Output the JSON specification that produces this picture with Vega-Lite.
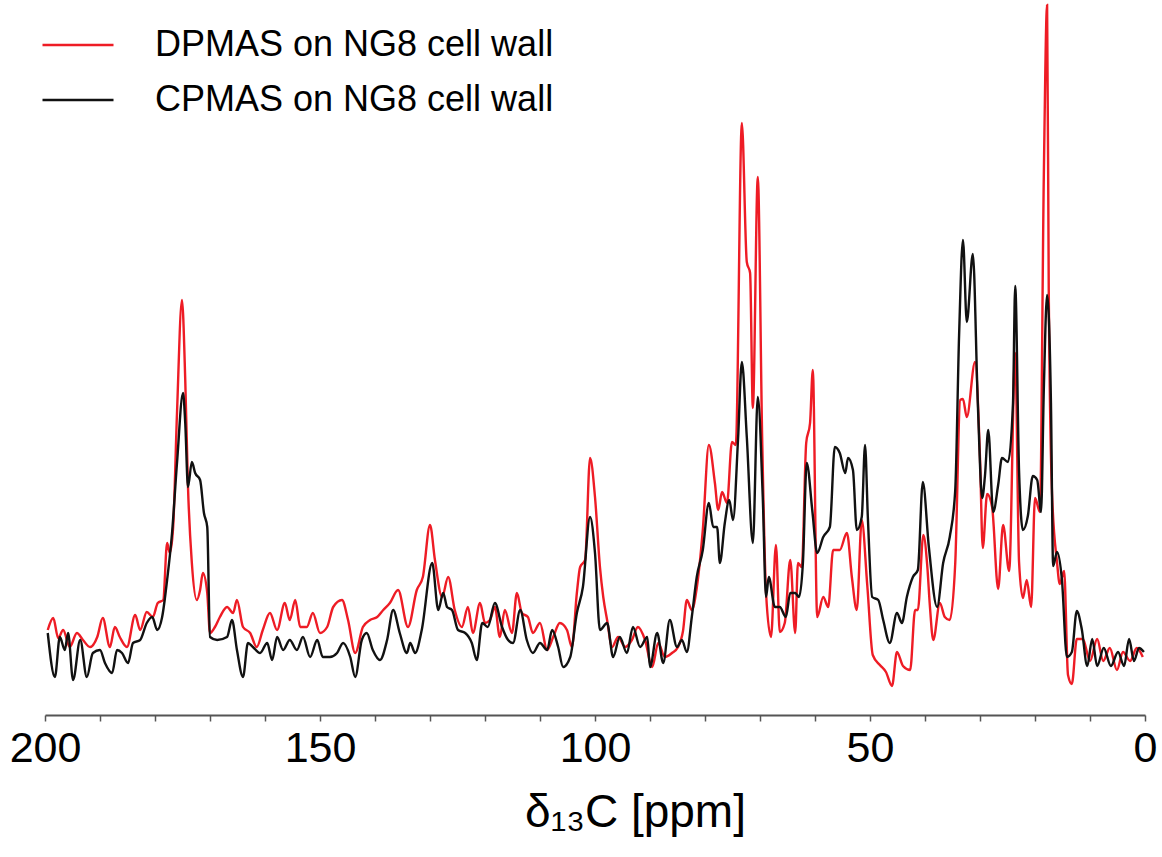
{
  "$schema": "https://vega.github.io/schema/vega-lite/v6.json",
  "autosize": {"type": "none"},
  "padding": {"left": 45, "top": 0, "right": 17, "bottom": 142},
  "width": 1100,
  "height": 715,
  "background": "white",
  "config": {"view": {"stroke": null}, "font": "Liberation Sans"},
  "datasets": {
    "dp": [
      {"s":"DPMAS on NG8 cell wall","ppm":199.5,"v":85},{"s":"DPMAS on NG8 cell wall","ppm":198.5,"v":97},{"s":"DPMAS on NG8 cell wall","ppm":197.6,"v":77},{"s":"DPMAS on NG8 cell wall","ppm":196.7,"v":85},{"s":"DPMAS on NG8 cell wall","ppm":195.5,"v":68},{"s":"DPMAS on NG8 cell wall","ppm":194.2,"v":82},{"s":"DPMAS on NG8 cell wall","ppm":193.1,"v":75},{"s":"DPMAS on NG8 cell wall","ppm":191.8,"v":68},{"s":"DPMAS on NG8 cell wall","ppm":190.5,"v":78},{"s":"DPMAS on NG8 cell wall","ppm":189.5,"v":97},{"s":"DPMAS on NG8 cell wall","ppm":188.2,"v":68},{"s":"DPMAS on NG8 cell wall","ppm":187.3,"v":88},{"s":"DPMAS on NG8 cell wall","ppm":186.4,"v":78},{"s":"DPMAS on NG8 cell wall","ppm":185.1,"v":68},{"s":"DPMAS on NG8 cell wall","ppm":183.6,"v":100},{"s":"DPMAS on NG8 cell wall","ppm":182.7,"v":85},{"s":"DPMAS on NG8 cell wall","ppm":181.5,"v":103},{"s":"DPMAS on NG8 cell wall","ppm":180.4,"v":98},{"s":"DPMAS on NG8 cell wall","ppm":179.5,"v":112},{"s":"DPMAS on NG8 cell wall","ppm":178.5,"v":115},{"s":"DPMAS on NG8 cell wall","ppm":177.8,"v":172},{"s":"DPMAS on NG8 cell wall","ppm":177.3,"v":162},{"s":"DPMAS on NG8 cell wall","ppm":176.7,"v":188},{"s":"DPMAS on NG8 cell wall","ppm":176.0,"v":302},{"s":"DPMAS on NG8 cell wall","ppm":175.1,"v":415},{"s":"DPMAS on NG8 cell wall","ppm":174.5,"v":335},{"s":"DPMAS on NG8 cell wall","ppm":174.0,"v":228},{"s":"DPMAS on NG8 cell wall","ppm":173.3,"v":152},{"s":"DPMAS on NG8 cell wall","ppm":172.4,"v":115},{"s":"DPMAS on NG8 cell wall","ppm":171.8,"v":125},{"s":"DPMAS on NG8 cell wall","ppm":171.3,"v":142},{"s":"DPMAS on NG8 cell wall","ppm":170.5,"v":122},{"s":"DPMAS on NG8 cell wall","ppm":170.0,"v":82},{"s":"DPMAS on NG8 cell wall","ppm":169.1,"v":88},{"s":"DPMAS on NG8 cell wall","ppm":168.2,"v":98},{"s":"DPMAS on NG8 cell wall","ppm":166.9,"v":108},{"s":"DPMAS on NG8 cell wall","ppm":165.8,"v":102},{"s":"DPMAS on NG8 cell wall","ppm":165.1,"v":115},{"s":"DPMAS on NG8 cell wall","ppm":164.0,"v":88},{"s":"DPMAS on NG8 cell wall","ppm":162.7,"v":82},{"s":"DPMAS on NG8 cell wall","ppm":161.5,"v":68},{"s":"DPMAS on NG8 cell wall","ppm":160.4,"v":85},{"s":"DPMAS on NG8 cell wall","ppm":159.1,"v":102},{"s":"DPMAS on NG8 cell wall","ppm":157.8,"v":85},{"s":"DPMAS on NG8 cell wall","ppm":156.4,"v":112},{"s":"DPMAS on NG8 cell wall","ppm":155.5,"v":95},{"s":"DPMAS on NG8 cell wall","ppm":154.5,"v":115},{"s":"DPMAS on NG8 cell wall","ppm":153.6,"v":88},{"s":"DPMAS on NG8 cell wall","ppm":152.4,"v":88},{"s":"DPMAS on NG8 cell wall","ppm":151.3,"v":102},{"s":"DPMAS on NG8 cell wall","ppm":150.0,"v":82},{"s":"DPMAS on NG8 cell wall","ppm":148.7,"v":88},{"s":"DPMAS on NG8 cell wall","ppm":147.6,"v":108},{"s":"DPMAS on NG8 cell wall","ppm":146.0,"v":115},{"s":"DPMAS on NG8 cell wall","ppm":144.9,"v":95},{"s":"DPMAS on NG8 cell wall","ppm":143.6,"v":62},{"s":"DPMAS on NG8 cell wall","ppm":142.2,"v":88},{"s":"DPMAS on NG8 cell wall","ppm":140.9,"v":95},{"s":"DPMAS on NG8 cell wall","ppm":139.6,"v":98},{"s":"DPMAS on NG8 cell wall","ppm":138.5,"v":105},{"s":"DPMAS on NG8 cell wall","ppm":137.3,"v":112},{"s":"DPMAS on NG8 cell wall","ppm":135.8,"v":125},{"s":"DPMAS on NG8 cell wall","ppm":134.0,"v":88},{"s":"DPMAS on NG8 cell wall","ppm":132.4,"v":125},{"s":"DPMAS on NG8 cell wall","ppm":131.3,"v":138},{"s":"DPMAS on NG8 cell wall","ppm":130.0,"v":190},{"s":"DPMAS on NG8 cell wall","ppm":129.1,"v":155},{"s":"DPMAS on NG8 cell wall","ppm":127.8,"v":118},{"s":"DPMAS on NG8 cell wall","ppm":126.7,"v":138},{"s":"DPMAS on NG8 cell wall","ppm":125.5,"v":105},{"s":"DPMAS on NG8 cell wall","ppm":124.2,"v":88},{"s":"DPMAS on NG8 cell wall","ppm":123.1,"v":108},{"s":"DPMAS on NG8 cell wall","ppm":122.2,"v":82},{"s":"DPMAS on NG8 cell wall","ppm":120.9,"v":112},{"s":"DPMAS on NG8 cell wall","ppm":120.0,"v":92},{"s":"DPMAS on NG8 cell wall","ppm":119.1,"v":95},{"s":"DPMAS on NG8 cell wall","ppm":118.2,"v":108},{"s":"DPMAS on NG8 cell wall","ppm":117.3,"v":78},{"s":"DPMAS on NG8 cell wall","ppm":116.4,"v":105},{"s":"DPMAS on NG8 cell wall","ppm":115.1,"v":82},{"s":"DPMAS on NG8 cell wall","ppm":114.2,"v":122},{"s":"DPMAS on NG8 cell wall","ppm":113.3,"v":102},{"s":"DPMAS on NG8 cell wall","ppm":112.2,"v":98},{"s":"DPMAS on NG8 cell wall","ppm":111.3,"v":82},{"s":"DPMAS on NG8 cell wall","ppm":110.0,"v":92},{"s":"DPMAS on NG8 cell wall","ppm":108.7,"v":65},{"s":"DPMAS on NG8 cell wall","ppm":107.6,"v":78},{"s":"DPMAS on NG8 cell wall","ppm":106.4,"v":92},{"s":"DPMAS on NG8 cell wall","ppm":105.1,"v":85},{"s":"DPMAS on NG8 cell wall","ppm":104.2,"v":68},{"s":"DPMAS on NG8 cell wall","ppm":103.3,"v":122},{"s":"DPMAS on NG8 cell wall","ppm":102.7,"v":148},{"s":"DPMAS on NG8 cell wall","ppm":101.8,"v":155},{"s":"DPMAS on NG8 cell wall","ppm":100.9,"v":257},{"s":"DPMAS on NG8 cell wall","ppm":100.0,"v":218},{"s":"DPMAS on NG8 cell wall","ppm":99.1,"v":148},{"s":"DPMAS on NG8 cell wall","ppm":98.5,"v":118},{"s":"DPMAS on NG8 cell wall","ppm":97.8,"v":95},{"s":"DPMAS on NG8 cell wall","ppm":96.9,"v":68},{"s":"DPMAS on NG8 cell wall","ppm":95.8,"v":78},{"s":"DPMAS on NG8 cell wall","ppm":94.5,"v":68},{"s":"DPMAS on NG8 cell wall","ppm":93.3,"v":75},{"s":"DPMAS on NG8 cell wall","ppm":92.2,"v":88},{"s":"DPMAS on NG8 cell wall","ppm":90.9,"v":75},{"s":"DPMAS on NG8 cell wall","ppm":89.6,"v":48},{"s":"DPMAS on NG8 cell wall","ppm":88.5,"v":72},{"s":"DPMAS on NG8 cell wall","ppm":87.3,"v":58},{"s":"DPMAS on NG8 cell wall","ppm":86.0,"v":62},{"s":"DPMAS on NG8 cell wall","ppm":84.9,"v":68},{"s":"DPMAS on NG8 cell wall","ppm":84.0,"v":84},{"s":"DPMAS on NG8 cell wall","ppm":83.3,"v":115},{"s":"DPMAS on NG8 cell wall","ppm":82.4,"v":105},{"s":"DPMAS on NG8 cell wall","ppm":81.5,"v":127},{"s":"DPMAS on NG8 cell wall","ppm":80.4,"v":185},{"s":"DPMAS on NG8 cell wall","ppm":79.3,"v":270},{"s":"DPMAS on NG8 cell wall","ppm":78.2,"v":232},{"s":"DPMAS on NG8 cell wall","ppm":77.6,"v":205},{"s":"DPMAS on NG8 cell wall","ppm":76.9,"v":223},{"s":"DPMAS on NG8 cell wall","ppm":76.0,"v":212},{"s":"DPMAS on NG8 cell wall","ppm":75.1,"v":273},{"s":"DPMAS on NG8 cell wall","ppm":74.4,"v":270},{"s":"DPMAS on NG8 cell wall","ppm":73.3,"v":592},{"s":"DPMAS on NG8 cell wall","ppm":72.4,"v":453},{"s":"DPMAS on NG8 cell wall","ppm":71.8,"v":442},{"s":"DPMAS on NG8 cell wall","ppm":71.3,"v":307},{"s":"DPMAS on NG8 cell wall","ppm":70.4,"v":538},{"s":"DPMAS on NG8 cell wall","ppm":69.6,"v":275},{"s":"DPMAS on NG8 cell wall","ppm":68.9,"v":122},{"s":"DPMAS on NG8 cell wall","ppm":68.0,"v":78},{"s":"DPMAS on NG8 cell wall","ppm":67.1,"v":170},{"s":"DPMAS on NG8 cell wall","ppm":66.4,"v":83},{"s":"DPMAS on NG8 cell wall","ppm":65.5,"v":92},{"s":"DPMAS on NG8 cell wall","ppm":64.5,"v":155},{"s":"DPMAS on NG8 cell wall","ppm":63.6,"v":82},{"s":"DPMAS on NG8 cell wall","ppm":63.1,"v":152},{"s":"DPMAS on NG8 cell wall","ppm":62.4,"v":148},{"s":"DPMAS on NG8 cell wall","ppm":61.6,"v":272},{"s":"DPMAS on NG8 cell wall","ppm":60.9,"v":292},{"s":"DPMAS on NG8 cell wall","ppm":60.4,"v":345},{"s":"DPMAS on NG8 cell wall","ppm":59.6,"v":98},{"s":"DPMAS on NG8 cell wall","ppm":58.5,"v":118},{"s":"DPMAS on NG8 cell wall","ppm":57.6,"v":108},{"s":"DPMAS on NG8 cell wall","ppm":56.7,"v":165},{"s":"DPMAS on NG8 cell wall","ppm":55.5,"v":165},{"s":"DPMAS on NG8 cell wall","ppm":54.2,"v":182},{"s":"DPMAS on NG8 cell wall","ppm":53.3,"v":138},{"s":"DPMAS on NG8 cell wall","ppm":52.4,"v":105},{"s":"DPMAS on NG8 cell wall","ppm":51.5,"v":195},{"s":"DPMAS on NG8 cell wall","ppm":50.5,"v":130},{"s":"DPMAS on NG8 cell wall","ppm":49.5,"v":60},{"s":"DPMAS on NG8 cell wall","ppm":48.2,"v":50},{"s":"DPMAS on NG8 cell wall","ppm":47.1,"v":43},{"s":"DPMAS on NG8 cell wall","ppm":46.0,"v":29},{"s":"DPMAS on NG8 cell wall","ppm":45.1,"v":63},{"s":"DPMAS on NG8 cell wall","ppm":44.0,"v":49},{"s":"DPMAS on NG8 cell wall","ppm":42.7,"v":45},{"s":"DPMAS on NG8 cell wall","ppm":41.8,"v":105},{"s":"DPMAS on NG8 cell wall","ppm":41.3,"v":105},{"s":"DPMAS on NG8 cell wall","ppm":40.3,"v":180},{"s":"DPMAS on NG8 cell wall","ppm":39.6,"v":150},{"s":"DPMAS on NG8 cell wall","ppm":39.1,"v":108},{"s":"DPMAS on NG8 cell wall","ppm":38.5,"v":75},{"s":"DPMAS on NG8 cell wall","ppm":37.3,"v":112},{"s":"DPMAS on NG8 cell wall","ppm":36.4,"v":98},{"s":"DPMAS on NG8 cell wall","ppm":35.5,"v":95},{"s":"DPMAS on NG8 cell wall","ppm":34.5,"v":152},{"s":"DPMAS on NG8 cell wall","ppm":33.6,"v":315},{"s":"DPMAS on NG8 cell wall","ppm":33.1,"v":316},{"s":"DPMAS on NG8 cell wall","ppm":32.4,"v":298},{"s":"DPMAS on NG8 cell wall","ppm":30.9,"v":353},{"s":"DPMAS on NG8 cell wall","ppm":30.0,"v":257},{"s":"DPMAS on NG8 cell wall","ppm":29.5,"v":167},{"s":"DPMAS on NG8 cell wall","ppm":28.7,"v":221},{"s":"DPMAS on NG8 cell wall","ppm":27.8,"v":208},{"s":"DPMAS on NG8 cell wall","ppm":26.7,"v":126},{"s":"DPMAS on NG8 cell wall","ppm":25.8,"v":190},{"s":"DPMAS on NG8 cell wall","ppm":24.7,"v":144},{"s":"DPMAS on NG8 cell wall","ppm":23.6,"v":362},{"s":"DPMAS on NG8 cell wall","ppm":22.9,"v":153},{"s":"DPMAS on NG8 cell wall","ppm":22.2,"v":117},{"s":"DPMAS on NG8 cell wall","ppm":21.5,"v":135},{"s":"DPMAS on NG8 cell wall","ppm":20.7,"v":108},{"s":"DPMAS on NG8 cell wall","ppm":20.0,"v":217},{"s":"DPMAS on NG8 cell wall","ppm":19.1,"v":203},{"s":"DPMAS on NG8 cell wall","ppm":18.4,"v":538},{"s":"DPMAS on NG8 cell wall","ppm":17.8,"v":710},{"s":"DPMAS on NG8 cell wall","ppm":17.5,"v":425},{"s":"DPMAS on NG8 cell wall","ppm":16.9,"v":221},{"s":"DPMAS on NG8 cell wall","ppm":16.0,"v":153},{"s":"DPMAS on NG8 cell wall","ppm":15.5,"v":131},{"s":"DPMAS on NG8 cell wall","ppm":14.7,"v":144},{"s":"DPMAS on NG8 cell wall","ppm":14.0,"v":40},{"s":"DPMAS on NG8 cell wall","ppm":13.3,"v":31},{"s":"DPMAS on NG8 cell wall","ppm":12.4,"v":76},{"s":"DPMAS on NG8 cell wall","ppm":11.3,"v":76},{"s":"DPMAS on NG8 cell wall","ppm":10.0,"v":54},{"s":"DPMAS on NG8 cell wall","ppm":8.7,"v":76},{"s":"DPMAS on NG8 cell wall","ppm":7.6,"v":54},{"s":"DPMAS on NG8 cell wall","ppm":6.4,"v":67},{"s":"DPMAS on NG8 cell wall","ppm":5.1,"v":45},{"s":"DPMAS on NG8 cell wall","ppm":4.0,"v":63},{"s":"DPMAS on NG8 cell wall","ppm":2.7,"v":54},{"s":"DPMAS on NG8 cell wall","ppm":1.5,"v":67},{"s":"DPMAS on NG8 cell wall","ppm":0.4,"v":58}
    ],
    "cp": [
      {"s":"CPMAS on NG8 cell wall","ppm":199.5,"v":82},{"s":"CPMAS on NG8 cell wall","ppm":198.2,"v":38},{"s":"CPMAS on NG8 cell wall","ppm":197.3,"v":78},{"s":"CPMAS on NG8 cell wall","ppm":196.4,"v":65},{"s":"CPMAS on NG8 cell wall","ppm":195.8,"v":82},{"s":"CPMAS on NG8 cell wall","ppm":194.9,"v":35},{"s":"CPMAS on NG8 cell wall","ppm":193.6,"v":75},{"s":"CPMAS on NG8 cell wall","ppm":192.4,"v":38},{"s":"CPMAS on NG8 cell wall","ppm":191.3,"v":62},{"s":"CPMAS on NG8 cell wall","ppm":190.0,"v":65},{"s":"CPMAS on NG8 cell wall","ppm":189.1,"v":52},{"s":"CPMAS on NG8 cell wall","ppm":187.8,"v":42},{"s":"CPMAS on NG8 cell wall","ppm":186.9,"v":65},{"s":"CPMAS on NG8 cell wall","ppm":186.0,"v":62},{"s":"CPMAS on NG8 cell wall","ppm":184.9,"v":52},{"s":"CPMAS on NG8 cell wall","ppm":184.0,"v":72},{"s":"CPMAS on NG8 cell wall","ppm":182.7,"v":75},{"s":"CPMAS on NG8 cell wall","ppm":181.5,"v":92},{"s":"CPMAS on NG8 cell wall","ppm":180.5,"v":98},{"s":"CPMAS on NG8 cell wall","ppm":179.6,"v":85},{"s":"CPMAS on NG8 cell wall","ppm":178.7,"v":98},{"s":"CPMAS on NG8 cell wall","ppm":177.8,"v":135},{"s":"CPMAS on NG8 cell wall","ppm":176.9,"v":182},{"s":"CPMAS on NG8 cell wall","ppm":176.0,"v":252},{"s":"CPMAS on NG8 cell wall","ppm":174.9,"v":322},{"s":"CPMAS on NG8 cell wall","ppm":174.5,"v":292},{"s":"CPMAS on NG8 cell wall","ppm":174.0,"v":228},{"s":"CPMAS on NG8 cell wall","ppm":173.3,"v":253},{"s":"CPMAS on NG8 cell wall","ppm":172.7,"v":242},{"s":"CPMAS on NG8 cell wall","ppm":171.8,"v":235},{"s":"CPMAS on NG8 cell wall","ppm":171.1,"v":202},{"s":"CPMAS on NG8 cell wall","ppm":170.5,"v":188},{"s":"CPMAS on NG8 cell wall","ppm":170.0,"v":78},{"s":"CPMAS on NG8 cell wall","ppm":168.7,"v":75},{"s":"CPMAS on NG8 cell wall","ppm":166.9,"v":78},{"s":"CPMAS on NG8 cell wall","ppm":166.0,"v":95},{"s":"CPMAS on NG8 cell wall","ppm":165.1,"v":65},{"s":"CPMAS on NG8 cell wall","ppm":164.0,"v":38},{"s":"CPMAS on NG8 cell wall","ppm":163.1,"v":72},{"s":"CPMAS on NG8 cell wall","ppm":162.2,"v":68},{"s":"CPMAS on NG8 cell wall","ppm":160.9,"v":62},{"s":"CPMAS on NG8 cell wall","ppm":159.6,"v":72},{"s":"CPMAS on NG8 cell wall","ppm":158.7,"v":55},{"s":"CPMAS on NG8 cell wall","ppm":157.8,"v":78},{"s":"CPMAS on NG8 cell wall","ppm":156.7,"v":65},{"s":"CPMAS on NG8 cell wall","ppm":155.5,"v":75},{"s":"CPMAS on NG8 cell wall","ppm":154.2,"v":65},{"s":"CPMAS on NG8 cell wall","ppm":153.1,"v":78},{"s":"CPMAS on NG8 cell wall","ppm":151.8,"v":58},{"s":"CPMAS on NG8 cell wall","ppm":150.5,"v":75},{"s":"CPMAS on NG8 cell wall","ppm":149.5,"v":58},{"s":"CPMAS on NG8 cell wall","ppm":148.2,"v":58},{"s":"CPMAS on NG8 cell wall","ppm":146.9,"v":62},{"s":"CPMAS on NG8 cell wall","ppm":145.8,"v":72},{"s":"CPMAS on NG8 cell wall","ppm":144.5,"v":58},{"s":"CPMAS on NG8 cell wall","ppm":143.6,"v":38},{"s":"CPMAS on NG8 cell wall","ppm":142.4,"v":75},{"s":"CPMAS on NG8 cell wall","ppm":141.5,"v":82},{"s":"CPMAS on NG8 cell wall","ppm":140.4,"v":65},{"s":"CPMAS on NG8 cell wall","ppm":139.1,"v":55},{"s":"CPMAS on NG8 cell wall","ppm":137.8,"v":75},{"s":"CPMAS on NG8 cell wall","ppm":136.7,"v":105},{"s":"CPMAS on NG8 cell wall","ppm":135.5,"v":82},{"s":"CPMAS on NG8 cell wall","ppm":134.2,"v":62},{"s":"CPMAS on NG8 cell wall","ppm":133.6,"v":72},{"s":"CPMAS on NG8 cell wall","ppm":132.7,"v":62},{"s":"CPMAS on NG8 cell wall","ppm":131.5,"v":85},{"s":"CPMAS on NG8 cell wall","ppm":129.6,"v":152},{"s":"CPMAS on NG8 cell wall","ppm":128.5,"v":105},{"s":"CPMAS on NG8 cell wall","ppm":127.6,"v":122},{"s":"CPMAS on NG8 cell wall","ppm":126.9,"v":108},{"s":"CPMAS on NG8 cell wall","ppm":126.0,"v":105},{"s":"CPMAS on NG8 cell wall","ppm":124.9,"v":85},{"s":"CPMAS on NG8 cell wall","ppm":123.6,"v":82},{"s":"CPMAS on NG8 cell wall","ppm":122.4,"v":72},{"s":"CPMAS on NG8 cell wall","ppm":121.5,"v":55},{"s":"CPMAS on NG8 cell wall","ppm":120.5,"v":92},{"s":"CPMAS on NG8 cell wall","ppm":119.5,"v":88},{"s":"CPMAS on NG8 cell wall","ppm":118.2,"v":112},{"s":"CPMAS on NG8 cell wall","ppm":116.9,"v":88},{"s":"CPMAS on NG8 cell wall","ppm":115.8,"v":75},{"s":"CPMAS on NG8 cell wall","ppm":114.9,"v":72},{"s":"CPMAS on NG8 cell wall","ppm":113.6,"v":105},{"s":"CPMAS on NG8 cell wall","ppm":112.4,"v":75},{"s":"CPMAS on NG8 cell wall","ppm":111.3,"v":62},{"s":"CPMAS on NG8 cell wall","ppm":110.0,"v":72},{"s":"CPMAS on NG8 cell wall","ppm":108.7,"v":65},{"s":"CPMAS on NG8 cell wall","ppm":107.8,"v":85},{"s":"CPMAS on NG8 cell wall","ppm":106.7,"v":68},{"s":"CPMAS on NG8 cell wall","ppm":105.8,"v":48},{"s":"CPMAS on NG8 cell wall","ppm":104.5,"v":58},{"s":"CPMAS on NG8 cell wall","ppm":103.3,"v":102},{"s":"CPMAS on NG8 cell wall","ppm":102.2,"v":128},{"s":"CPMAS on NG8 cell wall","ppm":100.9,"v":198},{"s":"CPMAS on NG8 cell wall","ppm":100.0,"v":162},{"s":"CPMAS on NG8 cell wall","ppm":99.1,"v":85},{"s":"CPMAS on NG8 cell wall","ppm":97.8,"v":92},{"s":"CPMAS on NG8 cell wall","ppm":96.7,"v":58},{"s":"CPMAS on NG8 cell wall","ppm":95.5,"v":78},{"s":"CPMAS on NG8 cell wall","ppm":94.2,"v":62},{"s":"CPMAS on NG8 cell wall","ppm":93.1,"v":88},{"s":"CPMAS on NG8 cell wall","ppm":91.8,"v":68},{"s":"CPMAS on NG8 cell wall","ppm":90.5,"v":78},{"s":"CPMAS on NG8 cell wall","ppm":90.0,"v":48},{"s":"CPMAS on NG8 cell wall","ppm":88.7,"v":82},{"s":"CPMAS on NG8 cell wall","ppm":87.6,"v":52},{"s":"CPMAS on NG8 cell wall","ppm":86.4,"v":95},{"s":"CPMAS on NG8 cell wall","ppm":85.1,"v":68},{"s":"CPMAS on NG8 cell wall","ppm":84.2,"v":75},{"s":"CPMAS on NG8 cell wall","ppm":83.3,"v":63},{"s":"CPMAS on NG8 cell wall","ppm":82.4,"v":98},{"s":"CPMAS on NG8 cell wall","ppm":81.5,"v":138},{"s":"CPMAS on NG8 cell wall","ppm":80.4,"v":165},{"s":"CPMAS on NG8 cell wall","ppm":79.3,"v":212},{"s":"CPMAS on NG8 cell wall","ppm":78.5,"v":188},{"s":"CPMAS on NG8 cell wall","ppm":77.8,"v":188},{"s":"CPMAS on NG8 cell wall","ppm":77.3,"v":152},{"s":"CPMAS on NG8 cell wall","ppm":76.4,"v":192},{"s":"CPMAS on NG8 cell wall","ppm":75.6,"v":215},{"s":"CPMAS on NG8 cell wall","ppm":74.9,"v":195},{"s":"CPMAS on NG8 cell wall","ppm":74.0,"v":275},{"s":"CPMAS on NG8 cell wall","ppm":73.3,"v":353},{"s":"CPMAS on NG8 cell wall","ppm":72.4,"v":278},{"s":"CPMAS on NG8 cell wall","ppm":71.3,"v":172},{"s":"CPMAS on NG8 cell wall","ppm":70.4,"v":318},{"s":"CPMAS on NG8 cell wall","ppm":69.5,"v":218},{"s":"CPMAS on NG8 cell wall","ppm":68.9,"v":118},{"s":"CPMAS on NG8 cell wall","ppm":68.4,"v":138},{"s":"CPMAS on NG8 cell wall","ppm":67.3,"v":108},{"s":"CPMAS on NG8 cell wall","ppm":66.4,"v":108},{"s":"CPMAS on NG8 cell wall","ppm":65.3,"v":98},{"s":"CPMAS on NG8 cell wall","ppm":64.5,"v":122},{"s":"CPMAS on NG8 cell wall","ppm":63.6,"v":122},{"s":"CPMAS on NG8 cell wall","ppm":62.9,"v":118},{"s":"CPMAS on NG8 cell wall","ppm":62.2,"v":152},{"s":"CPMAS on NG8 cell wall","ppm":61.5,"v":252},{"s":"CPMAS on NG8 cell wall","ppm":60.5,"v":205},{"s":"CPMAS on NG8 cell wall","ppm":59.6,"v":162},{"s":"CPMAS on NG8 cell wall","ppm":58.5,"v":178},{"s":"CPMAS on NG8 cell wall","ppm":57.3,"v":188},{"s":"CPMAS on NG8 cell wall","ppm":56.4,"v":268},{"s":"CPMAS on NG8 cell wall","ppm":55.5,"v":262},{"s":"CPMAS on NG8 cell wall","ppm":54.5,"v":242},{"s":"CPMAS on NG8 cell wall","ppm":54.0,"v":257},{"s":"CPMAS on NG8 cell wall","ppm":53.1,"v":245},{"s":"CPMAS on NG8 cell wall","ppm":52.4,"v":185},{"s":"CPMAS on NG8 cell wall","ppm":51.5,"v":198},{"s":"CPMAS on NG8 cell wall","ppm":50.9,"v":270},{"s":"CPMAS on NG8 cell wall","ppm":50.4,"v":199},{"s":"CPMAS on NG8 cell wall","ppm":49.6,"v":118},{"s":"CPMAS on NG8 cell wall","ppm":48.5,"v":115},{"s":"CPMAS on NG8 cell wall","ppm":47.6,"v":95},{"s":"CPMAS on NG8 cell wall","ppm":46.4,"v":72},{"s":"CPMAS on NG8 cell wall","ppm":45.1,"v":102},{"s":"CPMAS on NG8 cell wall","ppm":44.2,"v":92},{"s":"CPMAS on NG8 cell wall","ppm":43.3,"v":118},{"s":"CPMAS on NG8 cell wall","ppm":42.2,"v":138},{"s":"CPMAS on NG8 cell wall","ppm":41.3,"v":145},{"s":"CPMAS on NG8 cell wall","ppm":40.4,"v":233},{"s":"CPMAS on NG8 cell wall","ppm":39.3,"v":168},{"s":"CPMAS on NG8 cell wall","ppm":37.8,"v":108},{"s":"CPMAS on NG8 cell wall","ppm":36.7,"v":152},{"s":"CPMAS on NG8 cell wall","ppm":35.5,"v":178},{"s":"CPMAS on NG8 cell wall","ppm":34.5,"v":225},{"s":"CPMAS on NG8 cell wall","ppm":33.8,"v":380},{"s":"CPMAS on NG8 cell wall","ppm":33.1,"v":475},{"s":"CPMAS on NG8 cell wall","ppm":32.4,"v":393},{"s":"CPMAS on NG8 cell wall","ppm":31.3,"v":461},{"s":"CPMAS on NG8 cell wall","ppm":30.4,"v":312},{"s":"CPMAS on NG8 cell wall","ppm":29.6,"v":217},{"s":"CPMAS on NG8 cell wall","ppm":29.1,"v":239},{"s":"CPMAS on NG8 cell wall","ppm":28.5,"v":285},{"s":"CPMAS on NG8 cell wall","ppm":27.6,"v":203},{"s":"CPMAS on NG8 cell wall","ppm":26.7,"v":230},{"s":"CPMAS on NG8 cell wall","ppm":26.0,"v":257},{"s":"CPMAS on NG8 cell wall","ppm":24.9,"v":253},{"s":"CPMAS on NG8 cell wall","ppm":24.0,"v":312},{"s":"CPMAS on NG8 cell wall","ppm":23.6,"v":429},{"s":"CPMAS on NG8 cell wall","ppm":22.9,"v":244},{"s":"CPMAS on NG8 cell wall","ppm":22.2,"v":185},{"s":"CPMAS on NG8 cell wall","ppm":21.3,"v":199},{"s":"CPMAS on NG8 cell wall","ppm":20.4,"v":239},{"s":"CPMAS on NG8 cell wall","ppm":19.6,"v":235},{"s":"CPMAS on NG8 cell wall","ppm":18.9,"v":203},{"s":"CPMAS on NG8 cell wall","ppm":18.4,"v":325},{"s":"CPMAS on NG8 cell wall","ppm":17.8,"v":420},{"s":"CPMAS on NG8 cell wall","ppm":17.1,"v":312},{"s":"CPMAS on NG8 cell wall","ppm":16.7,"v":149},{"s":"CPMAS on NG8 cell wall","ppm":16.0,"v":163},{"s":"CPMAS on NG8 cell wall","ppm":15.1,"v":135},{"s":"CPMAS on NG8 cell wall","ppm":14.2,"v":58},{"s":"CPMAS on NG8 cell wall","ppm":13.3,"v":63},{"s":"CPMAS on NG8 cell wall","ppm":12.4,"v":104},{"s":"CPMAS on NG8 cell wall","ppm":11.5,"v":86},{"s":"CPMAS on NG8 cell wall","ppm":10.5,"v":49},{"s":"CPMAS on NG8 cell wall","ppm":9.6,"v":76},{"s":"CPMAS on NG8 cell wall","ppm":8.7,"v":49},{"s":"CPMAS on NG8 cell wall","ppm":7.5,"v":67},{"s":"CPMAS on NG8 cell wall","ppm":6.2,"v":49},{"s":"CPMAS on NG8 cell wall","ppm":4.9,"v":63},{"s":"CPMAS on NG8 cell wall","ppm":3.8,"v":49},{"s":"CPMAS on NG8 cell wall","ppm":2.9,"v":76},{"s":"CPMAS on NG8 cell wall","ppm":2.0,"v":54},{"s":"CPMAS on NG8 cell wall","ppm":1.1,"v":67},{"s":"CPMAS on NG8 cell wall","ppm":0.2,"v":63}
    ]
  },
  "encoding": {
    "x": {
      "field": "ppm", "type": "quantitative",
      "scale": {"domain": [200, 0], "nice": false, "zero": false},
      "axis": {
        "values": [0,10,20,30,40,50,60,70,80,90,100,110,120,130,140,150,160,170,180,190,200],
        "labelExpr": "datum.value % 50 === 0 ? datum.label : ''",
        "grid": false,
        "domainColor": "#555555", "domainWidth": 2,
        "tickColor": "#555555", "tickWidth": 1.5, "tickSize": 6,
        "labelFont": "Liberation Sans", "labelFontSize": 43, "labelColor": "#000000",
        "labelPadding": 6, "labelFlush": false, "labelBound": false, "labelOverlap": false,
        "title": "δ₁₃C [ppm]",
        "titleFont": "Liberation Sans", "titleFontSize": 46, "titleFontWeight": "normal",
        "titleColor": "#000000", "titlePadding": 20, "titleX": 590, "titleAnchor": "middle"
      }
    },
    "y": {
      "field": "v", "type": "quantitative",
      "scale": {"domain": [0, 715], "nice": false, "zero": false},
      "axis": null
    },
    "color": {
      "field": "s", "type": "nominal",
      "scale": {"domain": ["DPMAS on NG8 cell wall", "CPMAS on NG8 cell wall"], "range": ["#ee1c25", "#111111"]},
      "legend": {
        "title": null,
        "orient": "none",
        "legendX": -4,
        "legendY": 8,
        "symbolType": "stroke",
        "symbolSize": 5041,
        "symbolStrokeWidth": 2.5,
        "labelFont": "Liberation Sans",
        "labelFontSize": 36,
        "labelColor": "#000000",
        "labelOffset": 40,
        "labelLimit": 0,
        "rowPadding": 0
      }
    }
  },
  "layer": [
    {"data": {"name": "dp"}, "mark": {"type": "line", "strokeWidth": 2.4, "interpolate": "monotone"}},
    {"data": {"name": "cp"}, "mark": {"type": "line", "strokeWidth": 2.4, "interpolate": "monotone"}}
  ]
}
